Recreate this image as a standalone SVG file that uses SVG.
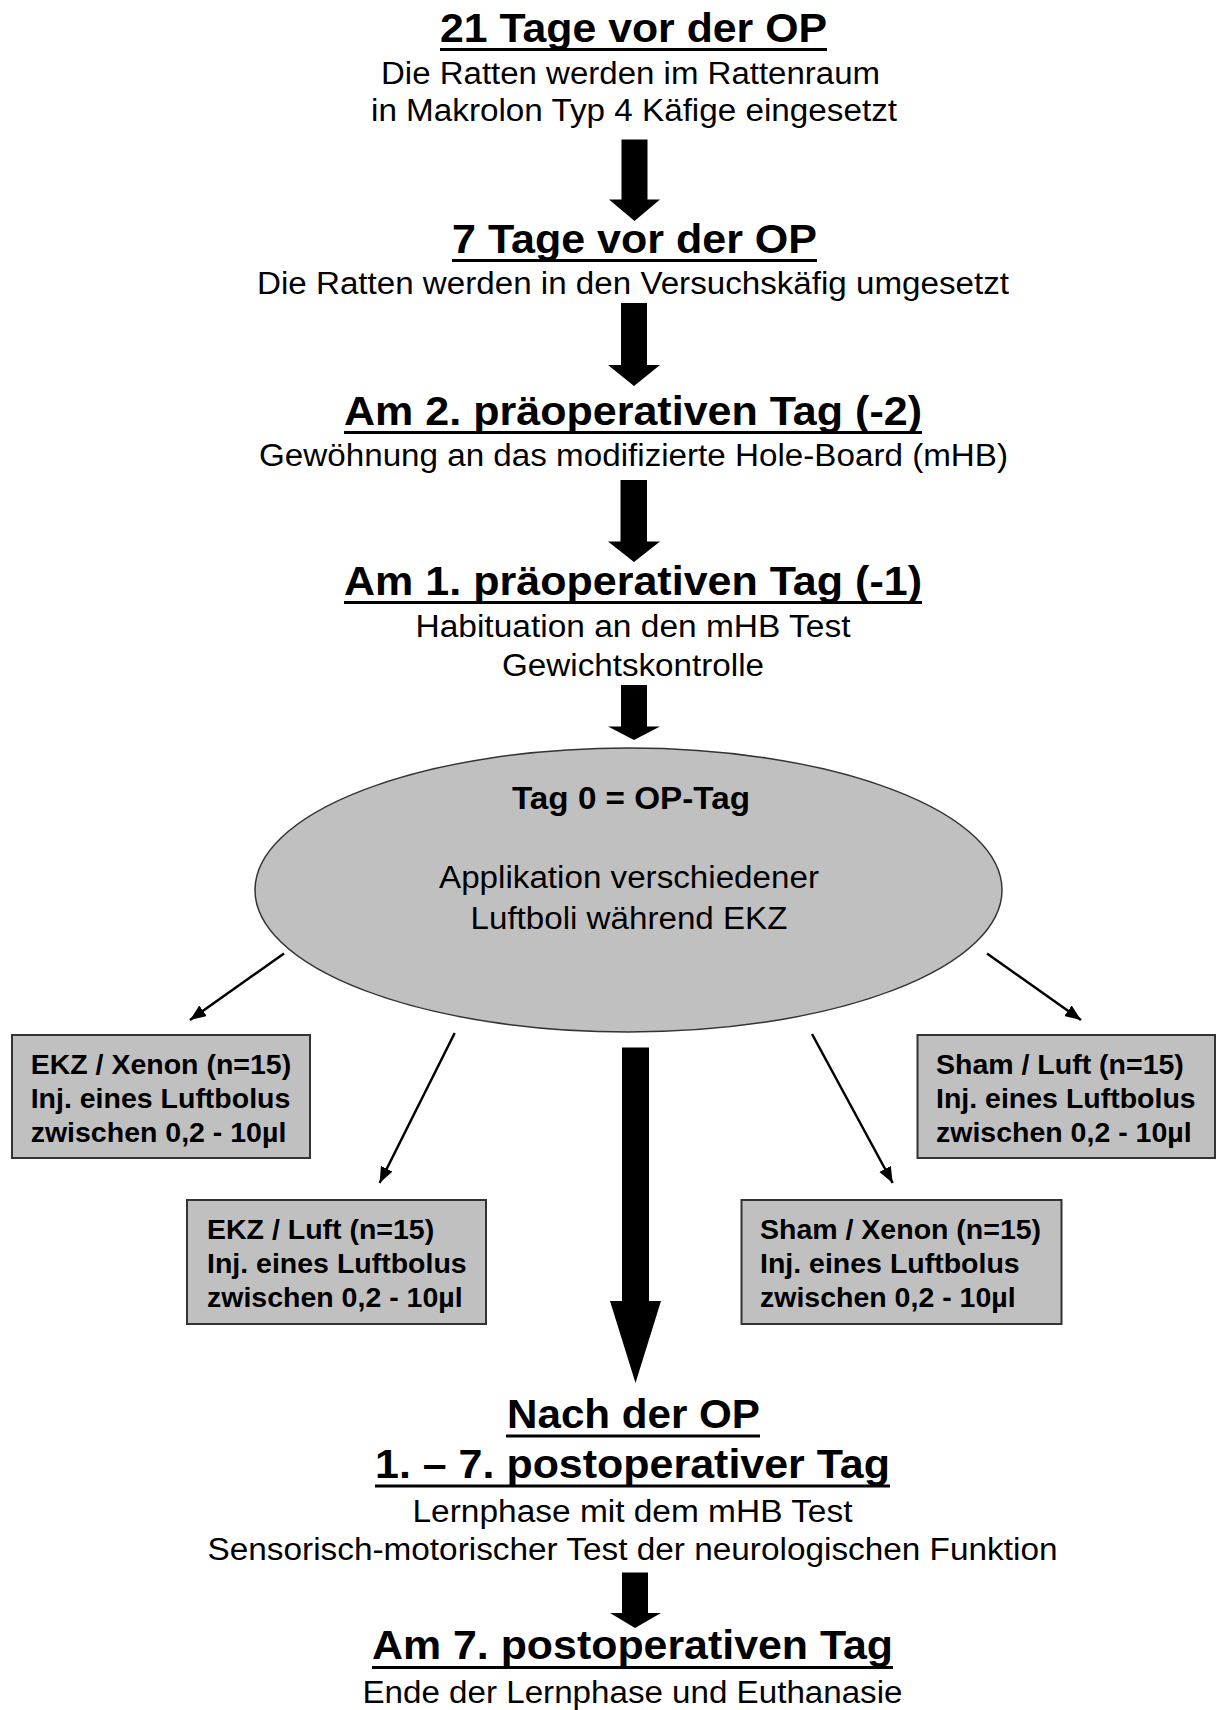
<svg xmlns="http://www.w3.org/2000/svg" width="1216" height="1710" viewBox="0 0 1216 1710">
<defs>
<style>
text{font-family:"Liberation Sans",Arial,sans-serif;fill:#000}
.t{font-size:40.5px;font-weight:bold}
.s{font-size:31px}
.b{font-size:28.5px;font-weight:bold}
.eb{font-size:31px;font-weight:bold}
.ul{stroke:#000;stroke-width:3}
.box{fill:#c0c0c0;stroke:#333;stroke-width:2}
.big{fill:#000}
.thin{stroke:#000;stroke-width:2.5;fill:none;marker-end:url(#ah)}
</style>
<marker id="ah" markerUnits="userSpaceOnUse" markerWidth="18" markerHeight="14" refX="16" refY="6.5" orient="auto">
<path d="M0,0 L16,6.5 L0,13 z" fill="#000"/>
</marker>
</defs>
<rect width="1216" height="1710" fill="#fff"/>

<g id="step-21">
<text class="t" x="440" y="42" textLength="387" lengthAdjust="spacingAndGlyphs">21 Tage vor der OP</text>
<line class="ul" x1="440" y1="49.5" x2="827" y2="49.5"/>
<text class="s" x="381" y="83.5" textLength="499" lengthAdjust="spacingAndGlyphs">Die Ratten werden im Rattenraum</text>
<text class="s" x="371" y="120.5" textLength="526" lengthAdjust="spacingAndGlyphs">in Makrolon Typ 4 Käfige eingesetzt</text>
</g>

<g id="step-7">
<text class="t" x="452" y="253" textLength="365" lengthAdjust="spacingAndGlyphs">7 Tage vor der OP</text>
<line class="ul" x1="452" y1="260.5" x2="817" y2="260.5"/>
<text class="s" x="257" y="294" textLength="752" lengthAdjust="spacingAndGlyphs">Die Ratten werden in den Versuchskäfig umgesetzt</text>
</g>

<g id="step-m2">
<text class="t" x="344" y="425" textLength="578" lengthAdjust="spacingAndGlyphs">Am 2. präoperativen Tag (-2)</text>
<line class="ul" x1="344" y1="432.5" x2="922" y2="432.5"/>
<text class="s" x="259" y="466" textLength="749" lengthAdjust="spacingAndGlyphs">Gewöhnung an das modifizierte Hole-Board (mHB)</text>
</g>

<g id="step-m1">
<text class="t" x="344" y="595" textLength="578" lengthAdjust="spacingAndGlyphs">Am 1. präoperativen Tag (-1)</text>
<line class="ul" x1="344" y1="602.5" x2="922" y2="602.5"/>
<text class="s" x="415.5" y="637" textLength="435" lengthAdjust="spacingAndGlyphs">Habituation an den mHB Test</text>
<text class="s" x="502" y="676" textLength="262" lengthAdjust="spacingAndGlyphs">Gewichtskontrolle</text>
</g>

<g id="op-day">
<ellipse cx="628.5" cy="890" rx="373.5" ry="142" fill="#c0c0c0" stroke="#333" stroke-width="1.5"/>
<text class="eb" x="512" y="808.5" textLength="238" lengthAdjust="spacingAndGlyphs">Tag 0 = OP-Tag</text>
<text class="s" x="439" y="888" textLength="380" lengthAdjust="spacingAndGlyphs">Applikation verschiedener</text>
<text class="s" x="470.5" y="928.5" textLength="317" lengthAdjust="spacingAndGlyphs">Luftboli während EKZ</text>
</g>

<g id="ekz-xenon">
<rect class="box" x="12" y="1035" width="298" height="123"/>
<text class="b" x="30.7" y="1074">EKZ / Xenon (n=15)</text>
<text class="b" x="30.7" y="1108">Inj. eines Luftbolus</text>
<text class="b" x="30.7" y="1142">zwischen 0,2 - 10µl</text>
</g>

<g id="ekz-luft">
<rect class="box" x="187" y="1200" width="299" height="124"/>
<text class="b" x="207" y="1239">EKZ / Luft (n=15)</text>
<text class="b" x="207" y="1273">Inj. eines Luftbolus</text>
<text class="b" x="207" y="1307">zwischen 0,2 - 10µl</text>
</g>

<g id="sham-xenon">
<rect class="box" x="741.5" y="1200" width="320" height="124"/>
<text class="b" x="760" y="1239">Sham / Xenon (n=15)</text>
<text class="b" x="760" y="1273">Inj. eines Luftbolus</text>
<text class="b" x="760" y="1307">zwischen 0,2 - 10µl</text>
</g>

<g id="sham-luft">
<rect class="box" x="917.5" y="1035" width="297.5" height="123"/>
<text class="b" x="936" y="1074">Sham / Luft (n=15)</text>
<text class="b" x="936" y="1108">Inj. eines Luftbolus</text>
<text class="b" x="936" y="1142">zwischen 0,2 - 10µl</text>
</g>

<g id="post-op">
<text class="t" x="507" y="1428" textLength="253" lengthAdjust="spacingAndGlyphs">Nach der OP</text>
<line class="ul" x1="506" y1="1436" x2="760" y2="1436"/>
<text class="t" x="375" y="1478" textLength="515" lengthAdjust="spacingAndGlyphs">1. – 7. postoperativer Tag</text>
<line class="ul" x1="375" y1="1486" x2="890" y2="1486"/>
<text class="s" x="412.5" y="1522" textLength="440" lengthAdjust="spacingAndGlyphs">Lernphase mit dem mHB Test</text>
<text class="s" x="207.5" y="1560" textLength="850" lengthAdjust="spacingAndGlyphs">Sensorisch-motorischer Test der neurologischen Funktion</text>
</g>

<g id="post-7">
<text class="t" x="372" y="1659" textLength="521" lengthAdjust="spacingAndGlyphs">Am 7. postoperativen Tag</text>
<line class="ul" x1="372" y1="1667.5" x2="893" y2="1667.5"/>
<text class="s" x="362.5" y="1703" textLength="540" lengthAdjust="spacingAndGlyphs">Ende der Lernphase und Euthanasie</text>
</g>

<g id="connectors">
<polygon class="big" points="621.5,139.5 647.5,139.5 647.5,199.5 660,199.5 634.5,221 609,199.5 621.5,199.5"/>
<polygon class="big" points="621,303 647,303 647,365 660,365 634,386 608,365 621,365"/>
<polygon class="big" points="620.5,480 647,480 647,541.5 660,541.5 634,562 608,541.5 620.5,541.5"/>
<polygon class="big" points="621,685 647,685 647,726.5 660,726.5 634,740 608,726.5 621,726.5"/>
<polygon class="big" points="622,1047.5 649,1047.5 649,1301 661,1301 635.5,1383 610,1301 622,1301"/>
<polygon class="big" points="622,1572.5 648,1572.5 648,1613 661,1613 635,1628 610,1613 622,1613"/>
<line class="thin" x1="284" y1="953.5" x2="190" y2="1020"/>
<line class="thin" x1="454.7" y1="1033" x2="379.6" y2="1183"/>
<line class="thin" x1="987" y1="953.5" x2="1081" y2="1020"/>
<line class="thin" x1="812" y1="1034" x2="892.7" y2="1183"/>
</g>
</svg>
